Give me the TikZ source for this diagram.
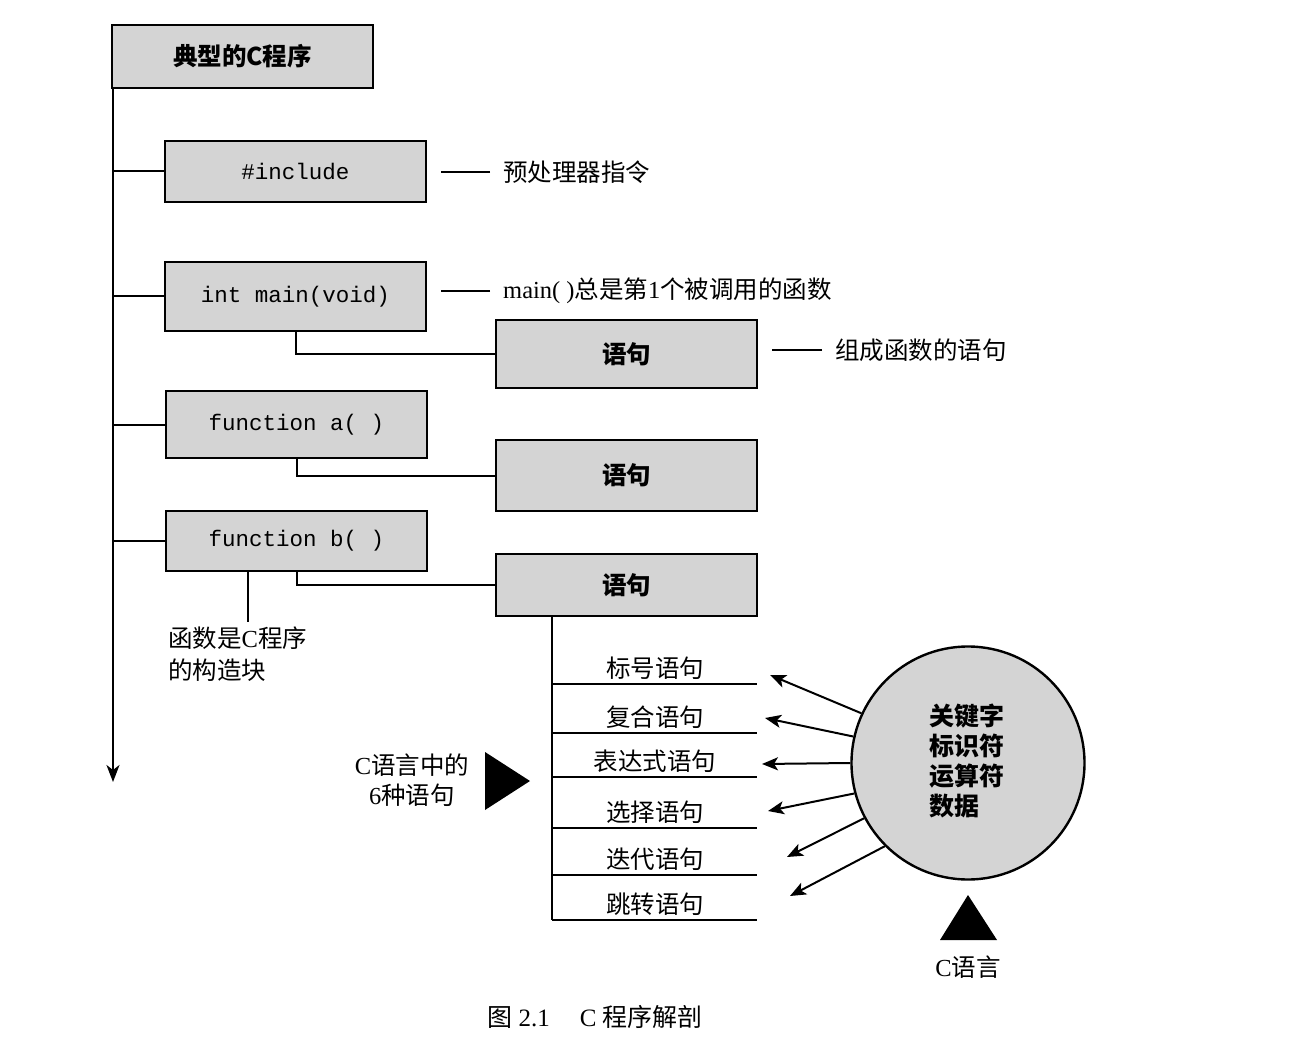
\documentclass[tikz,border=0pt]{standalone}
\usepackage{fontspec}
\setmainfont{Liberation Serif}
\setmonofont{Liberation Mono}
\newfontfamily\cjk{Noto Sans CJK SC}
\usetikzlibrary{arrows.meta}
\begin{document}
\begin{tikzpicture}[x=1pt,y=-1pt,
  box/.style={draw, line width=2.6pt, fill=black!17, minimum width=261pt, inner sep=0pt},
  mono/.style={font=\fontsize{22.5}{26}\selectfont\ttfamily},
  boldcjk/.style={font=\fontsize{24.5}{28}\selectfont\cjk\bfseries},
  conn/.style={line width=2pt},
  lbl/.style={font=\fontsize{24.5}{30}\selectfont, inner sep=0pt},
  arr/.style={conn, -{Stealth[length=16pt,width=13pt,inset=4pt]}}]
\useasboundingbox (0,0) rectangle (1314,1056);

% main boxes
\node[box, boldcjk, minimum height=63pt] (top) at (242.5,56.5) {典型的C程序};
\node[box, mono, minimum height=61pt] (inc) at (295.5,171.5) {\#include};
\node[box, mono, minimum height=69pt] (main) at (295.5,296.5) {int main(void)};
\node[box, mono, minimum height=67pt] (fa) at (296.5,424.5) {function a( )};
\node[box, mono, minimum height=60pt] (fb) at (296.5,541) {function b( )};
\node[box, boldcjk, minimum height=68pt] (s1) at (626.5,354) {语句};
\node[box, boldcjk, minimum height=71pt] (s2) at (626.5,475.5) {语句};
\node[box, boldcjk, minimum height=62pt] (s3) at (626.5,585) {语句};

% main trunk
\coordinate (trunk) at (113,782);
\draw[conn, -{Stealth[length=17pt,width=13pt,inset=5pt]}] (top.south west -| trunk) -- (trunk);
\foreach \b in {inc,main,fa,fb}{
  \draw[conn] (\b.west) -- (\b.west -| trunk);
}

% function to statement connectors
\draw[conn] (main.south) -- (main.south |- s1.west) -- (s1.west);
\draw[conn] (fa.south) -- (fa.south |- s2.west) -- (s2.west);
\draw[conn] (fb.south) -- (fb.south |- s3.west) -- (s3.west);

% notes
\node[lbl, anchor=west] (n1) at (503,172) {\cjk 预处理器指令};
\draw[conn] ([xshift=-13pt]n1.west) -- ++(-49,0);
\node[lbl, anchor=west] (n2) at (503,291) {main( )\cjk 总是第{\rmfamily 1}个被调用的函数};
\draw[conn] ([xshift=-13pt]n2.west) -- ++(-49,0);
\node[lbl, anchor=west] (n3) at (835,350) {\cjk 组成函数的语句};
\draw[conn] ([xshift=-13pt]n3.west) -- ++(-50,0);

% building block note
\coordinate (bb) at (248,622);
\draw[conn] (bb |- fb.south) -- (bb);
\node[lbl, anchor=north west, align=left, font=\fontsize{24.5}{32}\selectfont] (bbt) at (168,627)
  {{\cjk 函数是}C{\cjk 程序}\\{\cjk 的构造块}};

% six statements
\coordinate (lt) at (552,920);
\draw[conn] (lt |- s3.south) -- (lt);
\foreach \y/\t/\n in {684/标号语句/k1, 733/复合语句/k2, 777/表达式语句/k3, 828/选择语句/k4, 875/迭代语句/k5, 920/跳转语句/k6}{
  \coordinate (\n) at (552,\y);
  \draw[conn] (\n) -- ++(205,0);
  \node[lbl] (\n t) at (655,\y-16) {\cjk \t};
}

% left label and triangle
\node[lbl, align=center, font=\fontsize{24.5}{30}\selectfont] (six) at (412,780)
  {C{\cjk 语言中的}\\6{\cjk 种语句}};
\fill (485,752) -- (485,810) -- (530,781) -- cycle;

% circle
\node[circle, draw, line width=2.4pt, fill=black!17, minimum size=233pt, inner sep=0pt] (c) at (968,763) {};
\node[lbl, anchor=west, align=left, font=\fontsize{25}{30}\selectfont\cjk\bfseries] (ct) at (929,761)
  {关键字\\标识符\\运算符\\数据};

\coordinate (t1) at (770,675);
\coordinate (t2) at (765,718);
\coordinate (t3) at (762,764);
\coordinate (t4) at (768,811);
\coordinate (t5) at (787,857);
\coordinate (t6) at (790,896);
\draw[arr] (c.155) -- (t1);
\draw[arr] (c.167) -- (t2);
\draw[arr] (c.180) -- (t3);
\draw[arr] (c.195) -- (t4);
\draw[arr] (c.208) -- (t5);
\draw[arr] (c.225) -- (t6);

% bottom triangle and label
\fill (940,940) -- (997,940) -- (968,895) -- cycle;
\node[lbl] (cl) at (968,967) {C{\cjk 语言}};

% caption
\node[lbl, font=\fontsize{25}{28}\selectfont] (cap) at (595,1017)
  {{\cjk 图} 2.1\hspace{30pt}C {\cjk 程序解剖}};
\end{tikzpicture}
\end{document}
